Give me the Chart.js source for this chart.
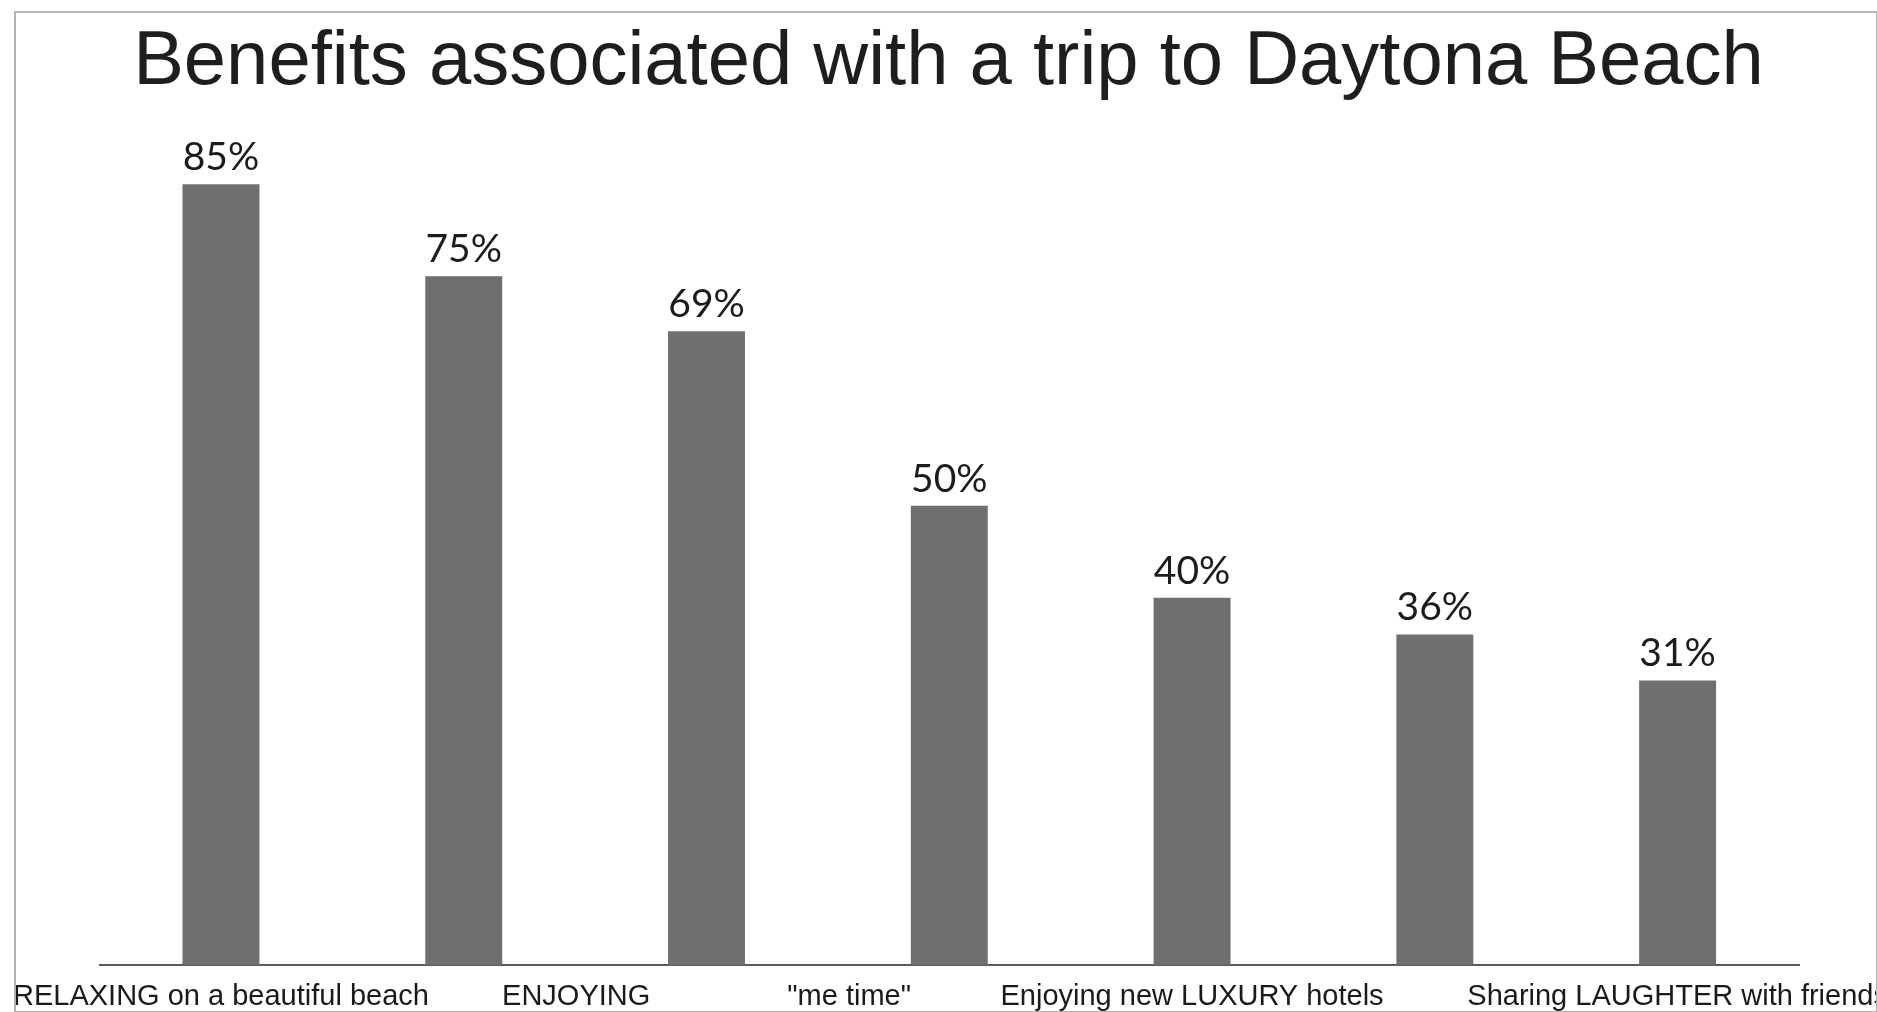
<!DOCTYPE html>
<html>
<head>
<meta charset="utf-8">
<title>Benefits associated with a trip to Daytona Beach</title>
<script src="https://cdn.jsdelivr.net/npm/chart.js@4.4.1/dist/chart.umd.min.js"></script>
<style>
  html, body { margin: 0; padding: 0; background: #fff; overflow: hidden; }
  #wrap { position: relative; width: 1877px; height: 1012px; overflow: hidden; }
  /* canvas runs past the right edge so the last label can hang over */
  #benefitsChart { position: absolute; left: 0; top: 0; }
  #frame {
    position: absolute; left: 14px; top: 11px; width: 1860px; height: 998px;
    border: 2px solid #b4b4b4; pointer-events: none;
  }
</style>
</head>
<body>
<div id="wrap">
  <canvas id="benefitsChart" width="1930" height="1020"></canvas>
  <div id="frame"></div>
</div>
<script>
// labels for the hidden in-between categories were not printed on the axis
let categorias = [
  "RELAXING on a beautiful beach",
  "",
  'ENJOYING                 "me time"',
  "",
  "Enjoying new LUXURY hotels",
  "",
  "Sharing LAUGHTER with friends"
];
let porcentajes = [85, 75, 69, 50, 40, 36, 31];
let titulo = "Benefits associated with a trip to Daytona Beach";

// draws "85%" etc. above every bar
const etiquetasPlugin = {
  id: "etiquetas",
  afterDatasetsDraw(chart) {
    const ctx = chart.ctx;
    const meta = chart.getDatasetMeta(0);
    ctx.save();
    ctx.font = "39px Lato, 'Open Sans', sans-serif";
    ctx.fillStyle = "#1c1c1c";
    ctx.textAlign = "center";
    ctx.textBaseline = "alphabetic";
    meta.data.forEach(function (bar, i) {
      ctx.fillText(porcentajes[i] + "%", bar.x, bar.y - 14);
    });
    ctx.restore();
  }
};

new Chart("benefitsChart", {
  type: "bar",
  data: {
    labels: categorias,
    datasets: [{
      data: porcentajes,
      backgroundColor: "#6f6f6f",
      borderWidth: 0,
      barPercentage: 0.317,
      categoryPercentage: 1
    }]
  },
  options: {
    responsive: false,
    animation: false,
    layout: {
      padding: { left: 98, right: 131, top: 0, bottom: 0 }
    },
    plugins: {
      legend: { display: false },
      tooltip: { enabled: false },
      title: {
        display: true,
        text: titulo,
        color: "#1e1e1e",
        font: { family: "'Liberation Sans', Arial, sans-serif", size: 76, weight: "normal", lineHeight: 1 },
        padding: { top: 25, bottom: 7 }
      }
    },
    scales: {
      x: {
        grid: { display: false },
        border: { display: true, color: "#5a5a5a", width: 2 },
        ticks: {
          autoSkip: false,
          maxRotation: 0,
          padding: 6,
          color: "#1a1a1a",
          font: { family: "'Liberation Sans', Arial, sans-serif", size: 29 }
        }
      },
      y: {
        display: false,
        min: 0,
        max: 93.3
      }
    }
  },
  plugins: [etiquetasPlugin]
});
</script>
</body>
</html>
